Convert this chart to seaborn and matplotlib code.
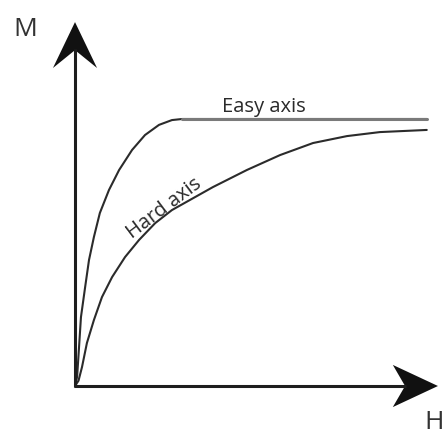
import numpy as np
import pandas as pd
import matplotlib.pyplot as plt
import seaborn as sns
from matplotlib.patches import Polygon

# magnetisation curves (H in arbitrary units, M normalised to saturation)
easy_h = [0, 0.06, 0.11, 0.17, 0.29, 0.40, 0.54, 0.71, 0.97, 1.26, 1.63, 2.0, 2.4, 2.77, 3.06, 10.05]
easy_m = [0, 0.034, 0.135, 0.258, 0.371, 0.472, 0.558, 0.648, 0.734, 0.809, 0.884, 0.94, 0.978, 0.996, 1.0, 1.0]
hard_h = [0, 0.1, 0.2, 0.34, 0.54, 0.77, 1.06, 1.43, 1.83, 2.29, 2.77, 3.94, 4.91, 5.86, 6.8, 7.77, 8.71, 10.05]
hard_m = [0, 0.02, 0.071, 0.161, 0.247, 0.333, 0.408, 0.483, 0.547, 0.61, 0.659, 0.745, 0.809, 0.865, 0.91, 0.936, 0.951, 0.959]
curve_labels = ["Easy axis", "Hard axis"]
axis_labels = ["H", "M"]

easy = pd.DataFrame({"H": easy_h, "M": easy_m})
hard = pd.DataFrame({"H": hard_h, "M": hard_m})

sns.set_style("white")
plt.rcParams["font.family"] = ["Open Sans", "DejaVu Sans"]

fig = plt.figure(figsize=(4.43, 4.37), dpi=100)
ax = fig.add_axes([0, 0, 1, 1])
ax.set_xlim(-2.143, 10.514)
ax.set_ylim(-0.191, 1.4457)
ax.axis("off")

sns.lineplot(data=easy, x="H", y="M", sort=False, color="#2b2b2b", lw=1.5, ax=ax)
flat = easy[easy["M"] >= 1.0]
sns.lineplot(data=flat, x="H", y="M", sort=False, color="#7a7a7a", lw=2.2, ax=ax)
sns.lineplot(data=hard, x="H", y="M", sort=False, color="#2b2b2b", lw=1.5, ax=ax)

# axes with notched arrow heads
x_tip, y_tip = 10.37, 1.363
ax.plot([0, 0], [-0.004, y_tip - 0.1], color="#1e1e1e", lw=2.2, solid_capstyle="butt")
ax.plot([-0.03, x_tip - 0.9], [0, 0], color="#1e1e1e", lw=2.2, solid_capstyle="butt")
ax.add_patch(Polygon([[0, y_tip], [0.63, y_tip - 0.172], [0, y_tip - 0.105],
                      [-0.63, y_tip - 0.172]], closed=True, color="#111111", lw=0))
ax.add_patch(Polygon([[x_tip, 0], [x_tip - 1.29, 0.079], [x_tip - 0.94, 0],
                      [x_tip - 1.29, -0.079]], closed=True, color="#111111", lw=0))

ax.text(-1.43, 1.335, axis_labels[1], fontsize=19, color="#333333", ha="center", va="center")
ax.text(10.25, -0.137, axis_labels[0], fontsize=19, color="#333333", ha="center", va="center")

ax.text(5.4, 1.026, curve_labels[0], fontsize=14.5, color="#2a2a2a", ha="center", va="baseline")
ax.text(2.63, 0.65, curve_labels[1], fontsize=14.5, color="#2a2a2a", ha="center", va="baseline",
        rotation=37, rotation_mode="anchor")

plt.savefig("out.png", dpi=100)
